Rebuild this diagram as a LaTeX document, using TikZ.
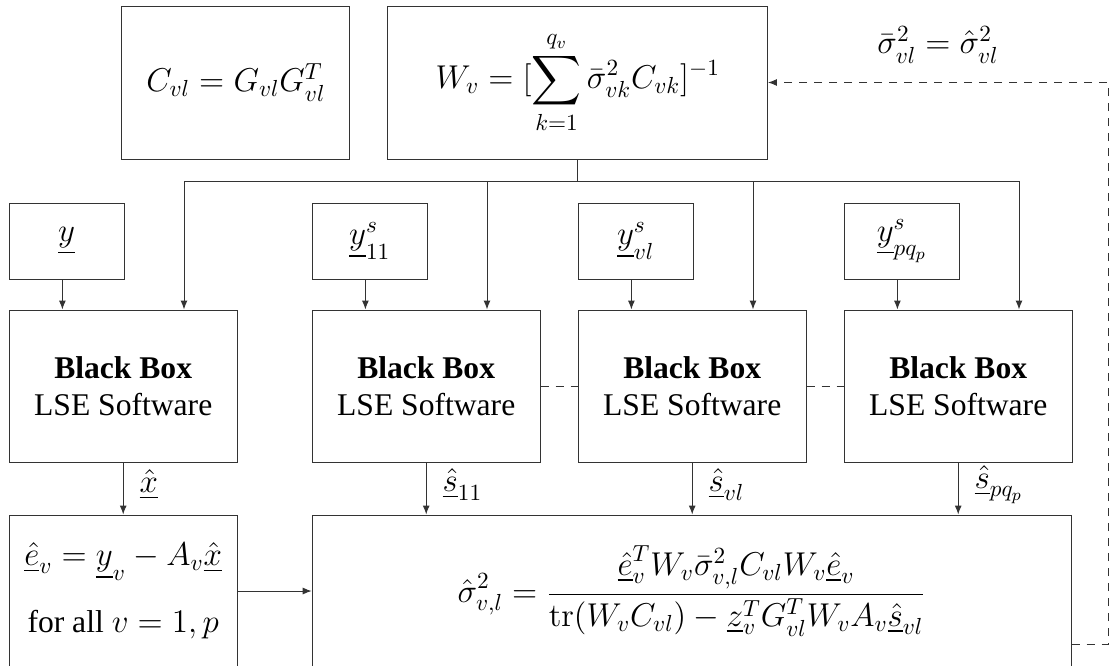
\RequirePackage{fix-cm}
\documentclass[tikz,border=0pt]{standalone}
\usepackage[no-math]{fontspec}
\setmainfont{Liberation Serif}
\usepackage{amsmath}
\DeclareMathSizes{15.8}{16.5}{11.6}{8.3}
\usetikzlibrary{arrows.meta, positioning, calc}
\tikzset{
  lse/.style  = {rectangle, draw=black!80, line width=0.5pt,
                 minimum width=114pt, minimum height=76pt,
                 align=center, inner sep=2pt},
  obs/.style  = {rectangle, draw=black!80, line width=0.5pt,
                 minimum width=57.5pt, minimum height=38pt, inner sep=2pt},
  line/.style = {line width=0.5pt, draw=black!80},
  arr/.style  = {line, -{Latex[length=4.5pt,width=3.5pt]}},
  dsh/.style  = {line, dash pattern=on 4pt off 3.5pt},
  darr/.style = {arr, dash pattern=on 4pt off 3.5pt},
  lbl/.style  = {right=6pt, inner sep=2pt, yshift=2pt},
}
\begin{document}
\begin{tikzpicture}[node distance=18.5pt, font=\fontsize{15.8}{18.5}\selectfont]
  \useasboundingbox (0,0) rectangle (559pt,-332.5pt);
  \clip (0,0) rectangle (559pt,-332.5pt);

  % solvers
  \node[lse] (bb1) at (61.6pt,-193pt) {\textbf{Black Box}\\LSE Software};
  \node[lse, right=37pt of bb1] (bb2) {\textbf{Black Box}\\LSE Software};
  \node[lse, right=of bb2]      (bb3) {\textbf{Black Box}\\LSE Software};
  \node[lse, right=of bb3]      (bb4) {\textbf{Black Box}\\LSE Software};

  % observations
  \node[obs, above right=15pt and 0pt of bb1.north west] (y1) {$\underline{y}$};
  \node[obs, above right=15pt and 0pt of bb2.north west] (y2) {$\underline{y}^s_{11}$};
  \node[obs, above right=15pt and 0pt of bb3.north west] (y3) {$\underline{y}^s_{vl}$};
  \node[obs, above right=15pt and 0pt of bb4.north west] (y4) {$\underline{y}^s_{pq_p}$};

  % weights
  \node[lse, minimum width=189.75pt, minimum height=76.5pt,
        above=75pt of bb3.north west] (wv)
    {$\displaystyle W_v = [\sum_{k=1}^{q_v} \bar{\sigma}^2_{vk} C_{vk}]^{-1}$};
  \node[lse, minimum height=76.5pt, left=of wv] (cv) {$C_{vl} = G_{vl}G_{vl}^T$};
  \node (upd) at (469pt,-22.5pt) {$\bar{\sigma}^2_{vl} = \hat{\sigma}^2_{vl}$};

  % residuals and variance estimate
  \node[lse, below=26pt of bb1] (res)
    {$\underline{\hat{e}}_v = \underline{y}_v - A_v\underline{\hat{x}}$\\[15pt]for all $v = 1,p$};
  \node[lse, minimum width=379.5pt, below right=26pt and 0pt of bb2.south west] (sig)
    {$\displaystyle \hat{\sigma}^2_{v,l} =
      \frac{\underline{\hat{e}}_v^T W_v \bar{\sigma}^2_{v,l} C_{vl} W_v \underline{\hat{e}}_v}
           {\operatorname{tr}(W_v C_{vl}) - \underline{z}_v^T G_{vl}^T W_v A_v \underline{\hat{s}}_{vl}}$};

  % distribution of W_v
  \coordinate (bus) at ([yshift=-10.85pt]wv.south);
  \draw[line] (wv.south) -- (bus);
  \foreach \i in {1,...,4} {
    \coordinate (yin\i) at ([xshift=-30.4pt]bb\i.north);
    \coordinate (win\i) at ([xshift=30.4pt]bb\i.north);
    \draw[arr] (y\i.south -| yin\i) -- (yin\i);
    \draw[arr] (bus -| win\i) -- (win\i);
  }
  \draw[line] (bus -| win1) -- (bus -| win4);

  \draw[dsh] (bb2) -- (bb3);
  \draw[dsh] (bb3) -- (bb4);

  % outputs
  \draw[arr] (bb1) -- node[lbl] {$\underline{\hat{x}}$} (res);
  \foreach \i/\s in {2/11, 3/vl, 4/pq_p}
    \draw[arr] (bb\i.south) -- node[lbl] {$\underline{\hat{s}}_{\s}$} (bb\i.south |- sig.north);
  \draw[arr] (res.east) -- (res.east -| sig.west);

  % feedback
  \draw[darr] ([yshift=-26.5pt]sig.east) -- ++(18.5pt,0) |- (wv.east);
\end{tikzpicture}
\end{document}
